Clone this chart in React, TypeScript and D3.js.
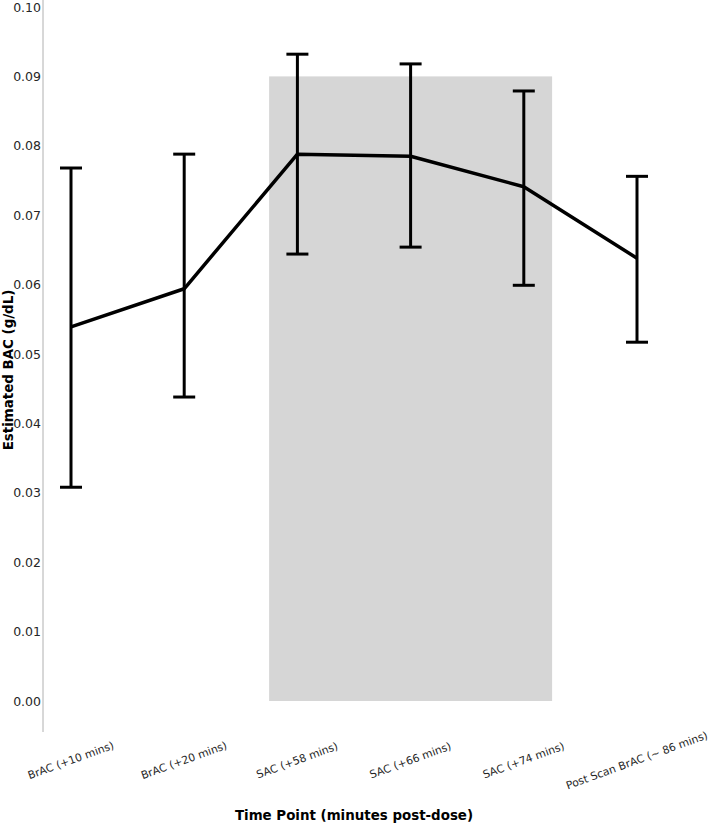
import React, { useEffect, useRef } from 'react'
import * as d3 from 'd3'

const categories = [
  'BrAC (+10 mins)',
  'BrAC (+20 mins)',
  'SAC (+58 mins)',
  'SAC (+66 mins)',
  'SAC (+74 mins)',
  'Post Scan BrAC (~ 86 mins)',
]
const means = [0.0539, 0.0594, 0.0788, 0.0785, 0.0741, 0.0638]
const upper = [0.0768, 0.0788, 0.0932, 0.0918, 0.0879, 0.0756]
const lower = [0.0308, 0.0438, 0.0644, 0.0654, 0.0599, 0.0517]
const yTicks = [0, 0.01, 0.02, 0.03, 0.04, 0.05, 0.06, 0.07, 0.08, 0.09, 0.1]
// shaded window spans the SAC samples, up to 0.09
const shadeFrom = 2
const shadeTo = 4
const shadeTop = 0.09

const W = 709
const H = 824

export default function App() {
  const ref = useRef<SVGSVGElement | null>(null)

  useEffect(() => {
    if (!ref.current) return
    const svg = d3.select(ref.current)
    svg.selectAll('*').remove()

    const x = d3.scalePoint<string>().domain(categories).range([71, 637])
    const y = d3.scaleLinear().domain([0, 0.1]).range([701, 7])
    const step = x.step()

    const g = svg.append('g')

    g.append('rect')
      .attr('x', x(categories[shadeFrom])! - step * 0.25)
      .attr('y', y(shadeTop))
      .attr('width', x(categories[shadeTo])! - x(categories[shadeFrom])! + step * 0.5)
      .attr('height', y(0) - y(shadeTop))
      .attr('fill', '#d6d6d6')

    // y axis
    g.append('line')
      .attr('x1', 43)
      .attr('x2', 43)
      .attr('y1', 0)
      .attr('y2', 732)
      .attr('stroke', '#b0b0b0')
      .attr('stroke-width', 1)

    const yAxis = g
      .append('g')
      .attr('transform', 'translate(42,0)')
      .call(d3.axisLeft(y).tickValues(yTicks).tickSize(0).tickPadding(1).tickFormat(d3.format('.2f')))
    yAxis.select('.domain').remove()
    yAxis
      .selectAll('text')
      .attr('font-family', 'DejaVu Sans')
      .attr('font-size', 12.5)
      .attr('fill', '#262626')

    // error bars
    const bars = g.selectAll('g.err').data(categories).join('g').attr('class', 'err')
    bars
      .append('line')
      .attr('x1', (d) => x(d)!)
      .attr('x2', (d) => x(d)!)
      .attr('y1', (_, i) => y(upper[i]))
      .attr('y2', (_, i) => y(lower[i]))
      .attr('stroke', '#000')
      .attr('stroke-width', 3)
    for (const arr of [upper, lower]) {
      bars
        .append('line')
        .attr('x1', (d) => x(d)! - 11)
        .attr('x2', (d) => x(d)! + 11)
        .attr('y1', (_, i) => y(arr[i]))
        .attr('y2', (_, i) => y(arr[i]))
        .attr('stroke', '#000')
        .attr('stroke-width', 3)
    }

    const line = d3
      .line<number>()
      .x((_, i) => x(categories[i])!)
      .y((d) => y(d))
    g.append('path')
      .attr('d', line(means))
      .attr('fill', 'none')
      .attr('stroke', '#000')
      .attr('stroke-width', 3.5)
      .attr('stroke-linejoin', 'round')

    // x tick labels, rotated
    g.selectAll('text.xlab')
      .data(categories)
      .join('text')
      .attr('class', 'xlab')
      .attr('transform', (d) => `translate(${x(d)},761) rotate(-20)`)
      .attr('text-anchor', 'middle')
      .attr('dominant-baseline', 'middle')
      .attr('font-family', 'DejaVu Sans')
      .attr('font-size', 10.8)
      .attr('fill', '#262626')
      .text((d) => d)

    g.append('text')
      .attr('x', 354)
      .attr('y', 820)
      .attr('text-anchor', 'middle')
      .attr('font-family', 'DejaVu Sans')
      .attr('font-weight', 'bold')
      .attr('font-size', 13.4)
      .attr('fill', '#000')
      .text('Time Point (minutes post-dose)')

    g.append('text')
      .attr('transform', 'translate(13,370) rotate(-90)')
      .attr('text-anchor', 'middle')
      .attr('font-family', 'DejaVu Sans')
      .attr('font-weight', 'bold')
      .attr('font-size', 13.4)
      .attr('fill', '#000')
      .text('Estimated BAC (g/dL)')
  }, [])

  return (
    <svg
      ref={ref}
      width={W}
      height={H}
      style={{ position: 'absolute', left: 0, top: 0, background: '#fff' }}
    />
  )
}
